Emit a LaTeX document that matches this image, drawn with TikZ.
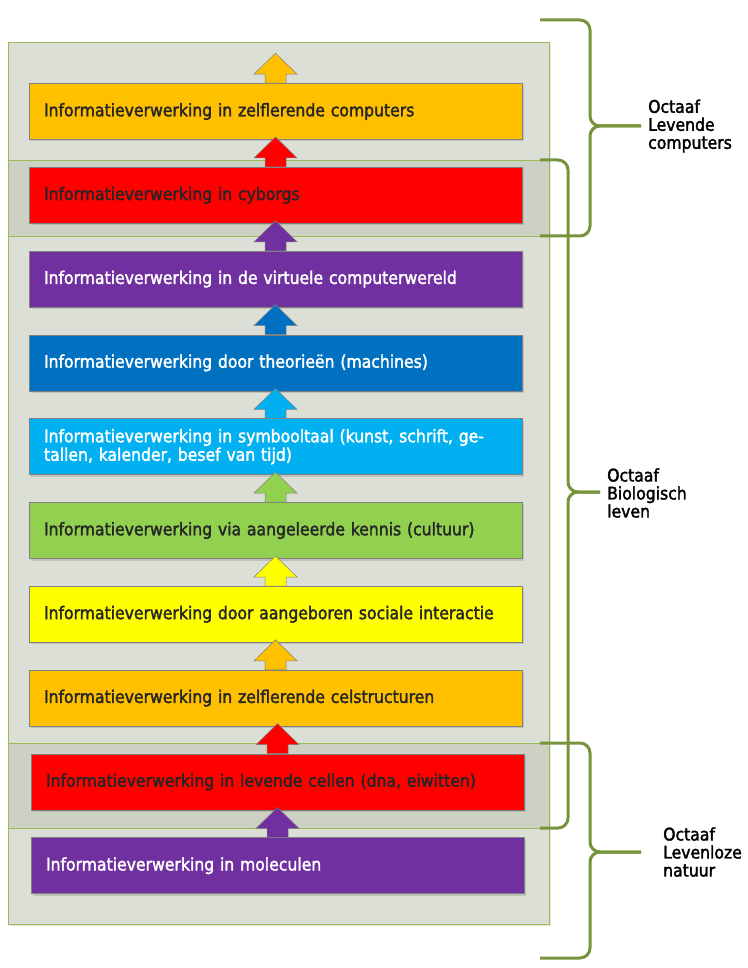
\documentclass[tikz,border=0pt]{standalone}
\usepackage{fontspec}
\setmainfont{DejaVu Sans Condensed}[FakeBold=2]
\usetikzlibrary{shadows}

\definecolor{oranje}{HTML}{FFC000}
\definecolor{rood}{HTML}{FF0000}
\definecolor{paars}{HTML}{7030A0}
\definecolor{blauw}{HTML}{0070C0}
\definecolor{lichtblauw}{HTML}{00B0F0}
\definecolor{groen}{HTML}{92D050}
\definecolor{geel}{HTML}{FFFF00}
\definecolor{paneel}{HTML}{DCDFD5}
\definecolor{band}{HTML}{CDD1C3}
\definecolor{randgroen}{HTML}{9BBB59}
\definecolor{accgroen}{HTML}{77933C}
\definecolor{donker}{HTML}{262626}

\begin{document}
\begin{tikzpicture}[x=1pt,y=-1pt,node distance=83.8pt,
  laag/.style={rectangle,draw=gray,line width=.6pt,minimum width=493pt,minimum height=56pt,
               text width=463pt,inner xsep=15pt,align=left,text=donker,
               font=\fontsize{17.4}{18.5}\selectfont,
               drop shadow={shadow xshift=1.5pt,shadow yshift=-2pt,opacity=.3}},
  pijlrand/.style={draw=gray,line width=.5pt},
  accolade/.style={draw=accgroen,line width=3pt,rounded corners=10pt},
  octaaf/.style={anchor=west,inner sep=0pt,align=left,font=\fontsize{17.4}{18}\selectfont}]

\useasboundingbox (0,0) rectangle (747,968);

% achtergrond
\filldraw[fill=paneel,draw=randgroen,line width=.6pt,
  drop shadow={shadow xshift=1.5pt,shadow yshift=-2pt,opacity=.2}] (8,42) rectangle (549,924);
\filldraw[fill=band,draw=randgroen,line width=.6pt] (8,160) rectangle (549,236);
\filldraw[fill=band,draw=randgroen,line width=.6pt] (8,743) rectangle (549,828);

\node[laag,fill=oranje]            (comp) at (275.5,111.5) {Informatieverwerking in zelflerende computers};
\node[laag,fill=rood]              (cyb)  [below of=comp] {Informatieverwerking in cyborgs};
\node[laag,fill=paars,text=white]  (virt) [below of=cyb]  {Informatieverwerking in de virtuele computerwereld};
\node[laag,fill=blauw,text=white]  (theo) [below of=virt] {Informatieverwerking door theorieën (machines)};
\node[laag,fill=lichtblauw,text=white] (symb) [below of=theo] {Informatieverwerking in symbooltaal (kunst, schrift, ge-\\tallen, kalender, besef van tijd)};
\node[laag,fill=groen]             (cult) [below of=symb] {Informatieverwerking via aangeleerde kennis (cultuur)};
\node[laag,fill=geel]              (soc)  [below of=cult] {Informatieverwerking door aangeboren sociale interactie};
\node[laag,fill=oranje]            (cel)  [below of=soc]  {Informatieverwerking in zelflerende celstructuren};
\node[laag,fill=rood]              (dna)  [below of=cel,xshift=2pt] {Informatieverwerking in levende cellen (dna, eiwitten)};
\node[laag,fill=paars,text=white]  (mol)  [below of=dna]  {Informatieverwerking in moleculen};

% pijlen naar boven
\foreach \n/\c in {comp/oranje,cyb/rood,virt/paars,theo/blauw,symb/lichtblauw,
                   cult/groen,soc/geel,cel/oranje,dna/rood,mol/paars}
  \filldraw[pijlrand,fill=\c] ([xshift=-10.5pt]\n.north) -- ++(0,-9) -- ++(-11,0)
    -- ++(21.5,-21) -- ++(21.5,21) -- ++(-11,0) -- ++(0,9) -- cycle;

% accolades
\draw[accolade] (540,20) -- (590,20) -- (590,126) -- (641,126);
\draw[accolade] (540,236) -- (590,236) -- (590,126) -- (641,126);
\draw[accolade] (540,160) -- (568,160) -- (568,492) -- (600,492);
\draw[accolade] (540,828) -- (568,828) -- (568,492) -- (600,492);
\draw[accolade] (540,743) -- (590,743) -- (590,852) -- (641,852);
\draw[accolade] (540,958) -- (590,958) -- (590,852) -- (641,852);

\node[octaaf] (lc) at (648,126) {Octaaf\\Levende\\computers};
\node[octaaf] (bl) at (607,493) {Octaaf\\Biologisch\\leven};
\node[octaaf] (ln) at (663,852) {Octaaf\\Levenloze\\natuur};

\end{tikzpicture}
\end{document}
